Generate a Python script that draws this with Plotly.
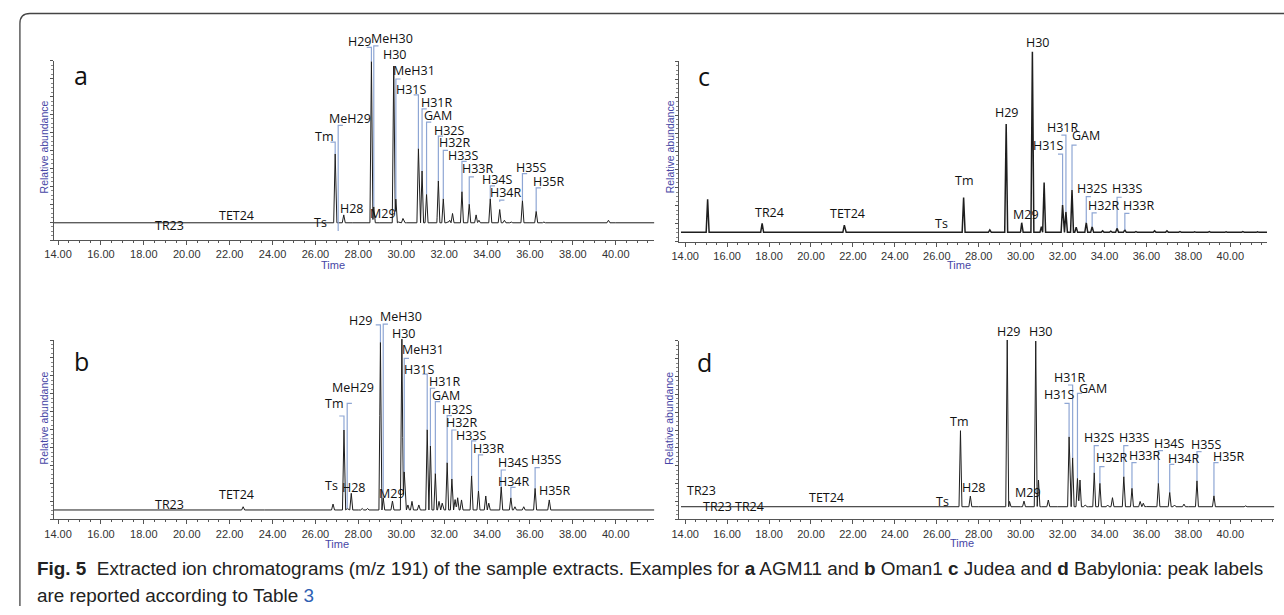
import numpy as np
import plotly.graph_objects as go

# ======================= DATA =======================
# x tick labels
tick_vals = [14, 16, 18, 20, 22, 24, 26, 28, 30, 32, 34, 36, 38, 40]
tick_text = ["%.2f" % v for v in tick_vals]

# ---- panel a : AGM11 ----
a_base_t = [13.8, 16, 20, 22, 24, 25, 26, 27, 28, 29, 30, 31, 32, 34, 36, 38, 40, 41.8]
a_base_h = [0.6, 0.7, 1.0, 1.2, 1.6, 2.2, 2.8, 3.8, 5.6, 6.3, 6.9, 8.0, 9.3, 9.6, 9.6, 8.9, 8.3, 8.3]
a_peak_t = [19.22, 19.6, 19.95, 22.34, 23.4, 24.96, 25.7, 25.85, 26.0, 26.2, 26.47, 26.92, 27.06,
            27.32, 27.81, 28.08, 28.61, 28.72, 29.18, 29.35, 29.65, 29.75, 29.86, 30.08, 30.25,
            30.4, 30.55, 30.80, 30.97, 31.18, 31.45, 31.6, 31.73, 31.96, 32.16, 32.26, 32.39,
            32.83, 33.17, 33.49, 33.62, 34.15, 34.59, 34.81, 35.13, 35.65, 36.29, 36.65, 37.5,
            37.65, 38.35, 39.66]
a_peak_h = [4.0, 1.5, 1.4, 6.5, 2.0, 3.7, 3.5, 3.8, 3.4, 4.0, 6.3, 48.0, 5.0,
            14.0, 5.5, 6.5, 99.6, 18.5, 10.0, 7.0, 97.0, 22.8, 10.0, 12.0, 8.0,
            8.0, 7.0, 51.0, 38.5, 25.5, 10.0, 10.0, 33.0, 23.0, 10.0, 11.0, 14.8,
            27.0, 20.0, 14.0, 11.0, 23.0, 17.0, 11.0, 10.0, 22.0, 16.0, 10.0, 9.5,
            9.3, 8.8, 11.0]
# label: (text, label_t, label_h, bracket_t, bracket_top, bracket_bottom, hook)
a_labels = [
    ("TR23", 19.18, 8.3, None, 0, 0, 0),
    ("TET24", 22.31, 13.9, None, 0, 0, 0),
    ("Ts", 26.24, 9.6, None, 0, 0, 0),
    ("Tm", 26.39, 57.8, 26.92, 54.6, 48.0, -1),
    ("MeH29", 27.62, 67.9, 27.06, 63.9, 5.0, 1),
    ("H28", 27.70, 17.6, None, 0, 0, 0),
    ("H29", 28.08, 110.6, 28.61, 107.4, 99.6, -1),
    ("MeH30", 29.57, 112.4, 28.72, 108.3, 18.5, 1),
    ("H30", 29.69, 103.3, None, 0, 0, 0),
    ("MeH31", 30.61, 94.8, 29.75, 89.8, 22.8, 1),
    ("M29", 29.14, 14.8, None, 0, 0, 0),
    ("H31S", 30.46, 83.7, 30.80, 80.9, 51.0, -1),
    ("H31R", 31.67, 76.8, 30.97, 73.1, 38.5, 1),
    ("GAM", 31.73, 69.4, 31.18, 65.7, 25.5, 1),
    ("H32S", 32.24, 61.1, 31.73, 57.9, 33.0, 1),
    ("H32R", 32.49, 54.1, 31.96, 50.0, 23.0, 1),
    ("H33S", 32.90, 47.2, 32.83, 43.9, 27.0, 1),
    ("H33R", 33.58, 39.8, 33.17, 35.2, 20.0, 1),
    ("H34S", 34.51, 33.7, 34.15, 30.2, 23.0, 1),
    ("H34R", 34.89, 26.5, 34.59, 22.2, 21.3, 1),
    ("H35S", 36.08, 40.7, 35.65, 37.0, 22.0, 1),
    ("H35R", 36.88, 32.4, 36.29, 29.1, 16.0, 1),
]

# ---- panel b : Oman1 ----
b_base_t = [13.8, 16, 20, 22, 24, 25, 26, 27, 28, 29, 30, 31, 32, 33, 34, 35, 36, 38, 40, 41.8]
b_base_h = [0.6, 0.7, 0.8, 0.9, 1.1, 1.8, 2.4, 2.9, 3.4, 3.8, 4.3, 4.8, 5.2, 5.2, 4.8, 4.2, 3.4, 2.4, 1.9, 1.9]
b_peak_t = [15.11, 15.3, 18.5, 19.46, 19.8, 20.2, 21.6, 22.63, 23.7, 25.26, 26.05, 26.2, 26.35,
            26.5, 26.82, 27.33, 27.48, 27.67, 28.18, 28.43, 29.03, 29.16, 29.59, 29.85, 30.03,
            30.14, 30.31, 30.5, 30.82, 31.21, 31.36, 31.59, 31.76, 31.91, 32.14, 32.36, 32.51,
            32.63, 32.81, 33.28, 33.6, 33.94, 34.08, 34.66, 35.11, 35.3, 35.71, 36.24, 36.9,
            37.4, 38.16, 39.07, 40.48]
b_peak_h = [1.5, 1.3, 1.2, 2.8, 1.3, 1.3, 1.5, 7.0, 1.6, 3.9, 3.5, 3.6, 3.5,
            3.6, 8.5, 49.8, 6.0, 14.5, 6.0, 6.0, 98.7, 12.0, 10.2, 5.0, 100.5,
            26.5, 8.0, 10.0, 8.0, 50.0, 40.9, 25.6, 10.0, 9.0, 31.6, 22.5, 11.0,
            12.0, 10.8, 24.3, 15.8, 13.0, 9.0, 18.0, 12.0, 7.0, 7.0, 17.3, 10.8,
            3.5, 4.0, 3.0, 2.5]
b_labels = [
    ("TR23", 19.20, 8.0, None, 0, 0, 0),
    ("TET24", 22.31, 13.9, None, 0, 0, 0),
    ("Ts", 26.77, 18.7, None, 0, 0, 0),
    ("Tm", 26.88, 64.7, 27.33, 57.6, 49.8, -1),
    ("MeH29", 27.73, 73.4, 27.48, 64.7, 6.0, 1),
    ("H28", 27.78, 17.8, None, 0, 0, 0),
    ("H29", 28.14, 110.8, 29.03, 108.4, 98.7, -1),
    ("MeH30", 29.99, 113.0, 29.16, 108.9, 12.0, 1),
    ("H30", 30.12, 103.7, None, 0, 0, 0),
    ("MeH31", 31.01, 94.8, 30.14, 89.8, 26.5, 1),
    ("M29", 29.59, 14.5, None, 0, 0, 0),
    ("H31S", 30.84, 83.6, 31.21, 81.0, 50.0, -1),
    ("H31R", 32.06, 76.8, 31.36, 73.1, 40.9, 1),
    ("GAM", 32.10, 69.3, 31.59, 65.6, 25.6, 1),
    ("H32S", 32.63, 61.0, 32.14, 57.8, 31.6, 1),
    ("H32R", 32.81, 53.9, 32.36, 49.8, 22.5, 1),
    ("H33S", 33.28, 47.0, 33.28, 43.7, 24.3, 1),
    ("H33R", 34.11, 39.6, 33.60, 35.9, 15.8, 1),
    ("H34S", 35.21, 31.6, 34.66, 27.5, 18.0, 1),
    ("H34R", 35.24, 21.0, 35.11, 17.8, 12.0, 1),
    ("H35S", 36.77, 33.1, 36.24, 28.8, 17.3, 1),
    ("H35R", 37.18, 15.8, None, 0, 0, 0),
]

# ---- panel c : Judea ----
c_base_t = [13.8, 20, 24, 26, 28, 30, 31, 32, 34, 36, 41.8]
c_base_h = [2.0, 1.9, 2.0, 2.2, 2.8, 3.7, 4.2, 4.6, 5.2, 5.0, 5.0]
c_peak_t = [14.06, 14.25, 14.6, 14.85, 15.07, 15.52, 15.91, 16.2, 16.6, 17.2, 17.67, 18.15, 18.49,
            18.9, 19.23, 19.7, 20.26, 20.7, 21.59, 21.75, 22.5, 23.3, 24.1, 24.69, 25.2, 26.09,
            26.7, 27.28, 27.52, 27.77, 28.1, 28.53, 28.9, 29.31, 29.7, 30.05, 30.56, 30.99,
            31.12, 31.5, 32.0, 32.16, 32.45, 32.65, 33.13, 33.41, 33.91, 34.3, 34.6, 34.97,
            35.5, 36.39, 36.98, 37.6, 38.3, 39.0, 39.8, 40.6, 41.3]
c_peak_h = [4.0, 3.0, 5.0, 2.8, 23.5, 4.5, 3.0, 3.5, 2.6, 2.4, 10.2, 3.5, 4.6,
            2.6, 4.0, 2.6, 3.5, 2.5, 9.2, 3.5, 2.4, 2.5, 2.4, 2.8, 2.6, 4.3,
            2.8, 24.4, 5.0, 5.5, 3.5, 6.5, 4.5, 65.1, 4.5, 10.5, 105.1, 8.3,
            32.7, 5.0, 20.3, 16.6, 28.6, 8.0, 10.5, 8.3, 6.0, 5.8, 7.4, 6.5,
            5.6, 6.0, 6.0, 5.6, 5.5, 5.6, 5.5, 5.6, 5.5]
c_labels = [
    ("TR24", 18.02, 16.0, None, 0, 0, 0),
    ("TET24", 21.76, 15.7, None, 0, 0, 0),
    ("Ts", 26.21, 10.2, None, 0, 0, 0),
    ("Tm", 27.30, 34.1, None, 0, 0, 0),
    ("H29", 29.37, 71.4, None, 0, 0, 0),
    ("M29", 30.25, 14.8, None, 0, 0, 0),
    ("H30", 30.83, 110.1, None, 0, 0, 0),
    ("H31S", 31.32, 53.1, 32.00, 48.5, 20.3, -1),
    ("H31R", 32.00, 63.1, 32.16, 59.0, 16.6, -1),
    ("GAM", 33.13, 58.5, 32.45, 53.5, 28.6, 1),
    ("H32S", 33.41, 29.2, 33.13, 24.9, 10.5, 1),
    ("H32R", 33.99, 20.3, 33.41, 16.0, 8.3, 1),
    ("H33S", 35.08, 29.2, 34.60, 24.6, 7.4, 1),
    ("H33R", 35.65, 19.9, 34.97, 15.7, 6.5, 1),
]

# ---- panel d : Babylonia ----
d_base_t = [13.8, 16, 20, 22, 24, 25, 26, 27, 28, 29, 30, 31, 32, 33, 34, 35, 36, 37, 38, 40, 42.1]
d_base_h = [0.4, 0.5, 0.6, 0.7, 0.9, 1.4, 1.9, 2.7, 3.4, 3.9, 4.3, 4.8, 5.2, 5.7, 6.2, 6.7, 7.1, 6.9, 6.7, 6.5, 6.5]
d_peak_t = [15.8, 16.52, 17.0, 19.23, 20.64, 22.1, 24.38, 25.72, 26.05, 26.46, 27.13, 27.37,
            27.6, 28.72, 29.11, 29.36, 29.47, 30.16, 30.72, 30.85, 31.11, 31.32, 31.82, 32.31,
            32.48, 32.71, 32.83, 33.08, 33.24, 33.51, 33.78, 34.15, 34.38, 34.92, 35.31, 35.7,
            35.85, 36.57, 37.11, 37.34, 37.79, 38.41, 39.22, 40.73]
d_peak_h = [2.4, 1.0, 1.0, 1.5, 6.3, 1.5, 2.5, 3.0, 3.0, 5.2, 49.6, 6.0,
            13.0, 4.0, 4.5, 100.4, 10.0, 10.2, 99.8, 22.0, 6.0, 10.8, 6.0, 46.2,
            34.5, 23.0, 22.0, 8.0, 7.0, 26.1, 20.2, 8.0, 12.1, 23.9, 17.4, 10.0,
            9.0, 20.2, 15.1, 8.0, 8.5, 21.6, 13.2, 7.5]
d_labels = [
    ("TR23", 14.77, 16.0, None, 0, 0, 0),
    ("TR23", 15.55, 7.1, None, 0, 0, 0),
    ("TR24", 17.06, 7.1, None, 0, 0, 0),
    ("TET24", 20.72, 12.3, None, 0, 0, 0),
    ("Ts", 26.26, 9.9, None, 0, 0, 0),
    ("Tm", 27.08, 54.7, None, 0, 0, 0),
    ("H28", 27.79, 17.7, None, 0, 0, 0),
    ("H29", 29.44, 105.4, None, 0, 0, 0),
    ("M29", 30.37, 15.1, None, 0, 0, 0),
    ("H30", 30.99, 105.0, None, 0, 0, 0),
    ("H31S", 31.86, 69.6, 32.31, 64.9, 46.2, -1),
    ("H31R", 32.36, 79.3, 32.48, 75.2, 34.5, -1),
    ("GAM", 33.47, 73.3, 32.71, 70.5, 23.0, 1),
    ("H32S", 33.76, 45.9, 33.51, 41.2, 26.1, 1),
    ("H32R", 34.38, 34.5, 33.78, 29.5, 20.2, 1),
    ("H33S", 35.41, 45.9, 34.92, 41.2, 23.9, 1),
    ("H33R", 35.95, 36.0, 35.31, 31.7, 17.4, 1),
    ("H34S", 37.09, 42.5, 36.57, 38.4, 20.2, 1),
    ("H34R", 37.79, 33.8, 37.11, 30.8, 15.1, 1),
    ("H35S", 38.85, 42.0, 38.41, 37.9, 21.6, 1),
    ("H35R", 39.92, 35.4, 39.22, 31.7, 13.2, 1),
]

caption_1 = ("<b>Fig. 5</b>&nbsp; Extracted ion chromatograms (m/z 191) of the sample extracts. "
             "Examples for <b>a</b> AGM11 and <b>b</b> Oman1 <b>c</b> Judea and <b>d</b> Babylonia: peak labels")
caption_2 = "are reported according to Table <span style='color:#2f5fb3'>3</span>"

# ======================= LAYOUT GEOMETRY (pixels) =======================
W, H = 1284, 615
def PX(x): return x / W
def PY(y): return 1 - y / H

geom = {
    "a": dict(x14=48.4, ppu=21.62, tl=13.81, tr=41.8, yb=240.0, yt=60.7, ptop=20, letter=(71.5, 75),
              ytitle=(34.7, 147), ttitle=(326, 265), lw=1.0),
    "b": dict(x14=48.4, ppu=21.62, tl=13.81, tr=41.8, yb=519.3, yt=340.0, ptop=300, letter=(72.5, 361),
              ytitle=(34.7, 418), ttitle=(330, 544), lw=1.0),
    "c": dict(x14=680.5, ppu=21.13, tl=13.72, tr=41.75, yb=241.7, yt=61.0, ptop=20, letter=(699.5, 76),
              ytitle=(665.5, 147), ttitle=(956, 265), lw=1.5),
    "d": dict(x14=680.5, ppu=21.13, tl=13.72, tr=42.1, yb=519.3, yt=340.7, ptop=300, letter=(700.4, 362),
              ytitle=(663.8, 418), ttitle=(959, 543), lw=1.0),
}
series = {
    "a": (a_base_t, a_base_h, a_peak_t, a_peak_h, a_labels),
    "b": (b_base_t, b_base_h, b_peak_t, b_peak_h, b_labels),
    "c": (c_base_t, c_base_h, c_peak_t, c_peak_h, c_labels),
    "d": (d_base_t, d_base_h, d_peak_t, d_peak_h, d_labels),
}

HALF_W = 0.07     # half width of a drawn peak (min)
HOOK = 0.22       # bracket hook length (min)
AXIS_COL = "#555555"
BRACKET_COL = "#8ea6d4"
LABEL_FONT = dict(family="Open Sans, Noto Sans, sans-serif", size=12.5, color="#111111")
TICK_FONT = dict(family="Liberation Sans, Arial, sans-serif", size=11, color="#333333")
BLUE_TXT = "#4646a6"


def trace_xy(base_t, base_h, pk_t, pk_h):
    pts = set(base_t)
    for t in pk_t:
        pts.update([t - HALF_W, t, t + HALF_W])
    xs = np.array(sorted(p for p in pts if base_t[0] <= p <= base_t[-1]))
    ys = np.interp(xs, base_t, base_h)
    for t, h in zip(pk_t, pk_h):
        b = np.interp(t, base_t, base_h)
        tri = b + (h - b) * np.clip(1 - np.abs(xs - t) / HALF_W, 0, None)
        ys = np.maximum(ys, tri)
    return xs, ys


fig = go.Figure()
layout = dict(width=W, height=H, margin=dict(l=0, r=0, t=0, b=0),
              paper_bgcolor="white", plot_bgcolor="rgba(0,0,0,0)", showlegend=False)
annotations = []
shapes = []

for i, key in enumerate(["a", "b", "c", "d"], start=1):
    g = geom[key]
    base_t, base_h, pk_t, pk_h, labels = series[key]
    xname = "x" if i == 1 else "x%d" % i
    yname = "y" if i == 1 else "y%d" % i
    tname = "y%d" % (i + 4)
    xl = g["x14"] + (g["tl"] - 14) * g["ppu"]
    xr = g["x14"] + (g["tr"] - 14) * g["ppu"]
    ymax = 100 * (g["yb"] - g["ptop"]) / (g["yb"] - g["yt"])

    layout["xaxis" if i == 1 else "xaxis%d" % i] = dict(
        domain=[PX(xl), PX(xr)], range=[g["tl"], g["tr"]], anchor=tname,
        showline=True, linecolor=AXIS_COL, linewidth=1, showgrid=False, zeroline=False,
        tickmode="array", tickvals=tick_vals, ticktext=tick_text,
        ticks="outside", ticklen=4, tickcolor=AXIS_COL, tickfont=TICK_FONT,
        minor=dict(ticks="outside", dtick=0.5, tick0=14, ticklen=2, tickcolor=AXIS_COL),
    )
    layout["yaxis" if i == 1 else "yaxis%d" % i] = dict(
        domain=[PY(g["yb"]), PY(g["ptop"])], range=[0, ymax], anchor=xname, visible=False)
    layout["yaxis%d" % (i + 4)] = dict(
        domain=[PY(g["yb"]), PY(g["yt"])], range=[0, 100], anchor=xname,
        showline=True, linecolor=AXIS_COL, linewidth=1, showgrid=False, zeroline=False,
        showticklabels=False, ticks="outside", tick0=0, dtick=10, ticklen=3, tickcolor=AXIS_COL,
        minor=dict(ticks="outside", dtick=2.5, ticklen=2, tickcolor="#888888"))

    xs, ys = trace_xy(base_t, base_h, pk_t, pk_h)
    fig.add_trace(go.Scatter(x=xs, y=ys, mode="lines", xaxis=xname, yaxis=yname,
                             line=dict(color="#1e1e1e", width=g["lw"]), hoverinfo="skip"))
    fig.add_trace(go.Scatter(x=[None], y=[None], mode="lines", xaxis=xname, yaxis=tname,
                             hoverinfo="skip"))

    bx, by = [], []
    for (txt, lx, ly, bt, btop, bbot, hook) in labels:
        annotations.append(dict(x=lx, y=ly, xref=xname, yref=yname, text=txt, showarrow=False,
                                font=LABEL_FONT, xanchor="center", yanchor="middle"))
        if bt is not None:
            bx += [bt + hook * HOOK, bt, bt, None]
            by += [btop, btop, bbot, None]
    fig.add_trace(go.Scatter(x=bx, y=by, mode="lines", xaxis=xname, yaxis=yname,
                             line=dict(color=BRACKET_COL, width=1.2), hoverinfo="skip"))

    lx, ly = g["letter"]
    annotations.append(dict(x=PX(lx), y=PY(ly), xref="paper", yref="paper", text=key,
                            showarrow=False, font=dict(family="Open Sans, sans-serif", size=25, color="#111111"),
                            xanchor="center", yanchor="middle"))
    tx, ty = g["ytitle"]
    annotations.append(dict(x=PX(tx), y=PY(ty), xref="paper", yref="paper", text="Relative abundance",
                            textangle=-90, showarrow=False,
                            font=dict(family="Liberation Sans, Arial, sans-serif", size=10.5, color=BLUE_TXT),
                            xanchor="center", yanchor="middle"))
    tx, ty = g["ttitle"]
    annotations.append(dict(x=PX(tx), y=PY(ty), xref="paper", yref="paper", text="Time",
                            showarrow=False,
                            font=dict(family="Liberation Sans, Arial, sans-serif", size=11, color=BLUE_TXT),
                            xanchor="center", yanchor="middle"))

CAP_FONT = dict(family="Liberation Sans, Arial, sans-serif", size=18.9, color="#222222")
annotations.append(dict(x=PX(25), y=PY(568), xref="paper", yref="paper", text=caption_1, showarrow=False,
                        font=CAP_FONT, xanchor="left", yanchor="middle"))
annotations.append(dict(x=PX(25), y=PY(595), xref="paper", yref="paper", text=caption_2, showarrow=False,
                        font=CAP_FONT, xanchor="left", yanchor="middle"))

# rounded outer frame (top and left edges)
frame = "M %f,%f L %f,%f Q %f,%f %f,%f L %f,%f" % (
    PX(1290), PY(13.5), PX(20), PY(13.5), PX(10), PY(13.5), PX(10), PY(23.5), PX(10), PY(606))
shapes.append(dict(type="path", path=frame, xref="paper", yref="paper",
                   line=dict(color="#444444", width=1.3)))

layout["annotations"] = annotations
layout["shapes"] = shapes
fig.update_layout(**layout)
fig.write_html("out.html", config={"displayModeBar": False},
               post_script="document.body.style.margin='0px';document.body.style.padding='0px';"
                           "document.body.style.overflow='hidden';")
